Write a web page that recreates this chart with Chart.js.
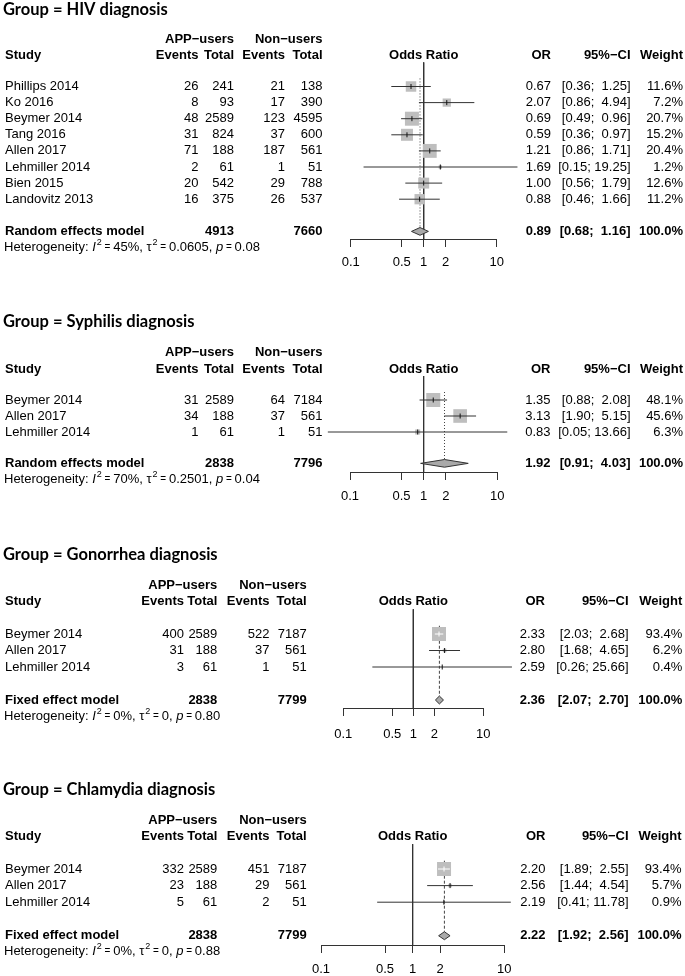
<!DOCTYPE html>
<html><head><meta charset="utf-8">
<script src="https://cdn.jsdelivr.net/npm/chart.js@4.4.1/dist/chart.umd.min.js"></script>
<style>
html,body{margin:0;padding:0;background:#fff;width:685px;height:976px;overflow:hidden;position:relative;}
canvas{position:absolute;left:0;}
</style></head><body>
<canvas id="c0"></canvas><canvas id="c1"></canvas><canvas id="c2"></canvas><canvas id="c3"></canvas>
<script>
// ---------------- DATA ----------------
const GROUPS = ['HIV diagnosis', 'Syphilis diagnosis', 'Gonorrhea diagnosis', 'Chlamydia diagnosis'];
const MODELS = ['Random effects model', 'Random effects model', 'Fixed effect model', 'Fixed effect model'];
const X_TICKS = [0.1, 0.5, 1, 2, 10];

const HIV_STUDIES = ['Phillips 2014', 'Ko 2016', 'Beymer 2014', 'Tang 2016', 'Allen 2017', 'Lehmiller 2014', 'Bien 2015', 'Landovitz 2013'];
const HIV_APP_EVENTS = [26, 8, 48, 31, 71, 2, 20, 16];
const HIV_APP_TOTAL = [241, 93, 2589, 824, 188, 61, 542, 375];
const HIV_NON_EVENTS = [21, 17, 123, 37, 187, 1, 29, 26];
const HIV_NON_TOTAL = [138, 390, 4595, 600, 561, 51, 788, 537];
const HIV_OR = [0.67, 2.07, 0.69, 0.59, 1.21, 1.69, 1.00, 0.88];
const HIV_LOWER = [0.36, 0.86, 0.49, 0.36, 0.86, 0.15, 0.56, 0.46];
const HIV_UPPER = [1.25, 4.94, 0.96, 0.97, 1.71, 19.25, 1.79, 1.66];
const HIV_WEIGHT = [11.6, 7.2, 20.7, 15.2, 20.4, 1.2, 12.6, 11.2];
const HIV_POOLED = [0.89, 0.68, 1.16];
const HIV_TOTALS = [4913, 7660];
const HIV_HET = ['45%', '0.0605', '0.08'];

const SY_STUDIES = ['Beymer 2014', 'Allen 2017', 'Lehmiller 2014'];
const SY_APP_EVENTS = [31, 34, 1];
const SY_APP_TOTAL = [2589, 188, 61];
const SY_NON_EVENTS = [64, 37, 1];
const SY_NON_TOTAL = [7184, 561, 51];
const SY_OR = [1.35, 3.13, 0.83];
const SY_LOWER = [0.88, 1.90, 0.05];
const SY_UPPER = [2.08, 5.15, 13.66];
const SY_WEIGHT = [48.1, 45.6, 6.3];
const SY_POOLED = [1.92, 0.91, 4.03];
const SY_TOTALS = [2838, 7796];
const SY_HET = ['70%', '0.2501', '0.04'];

const GO_STUDIES = ['Beymer 2014', 'Allen 2017', 'Lehmiller 2014'];
const GO_APP_EVENTS = [400, 31, 3];
const GO_APP_TOTAL = [2589, 188, 61];
const GO_NON_EVENTS = [522, 37, 1];
const GO_NON_TOTAL = [7187, 561, 51];
const GO_OR = [2.33, 2.80, 2.59];
const GO_LOWER = [2.03, 1.68, 0.26];
const GO_UPPER = [2.68, 4.65, 25.66];
const GO_WEIGHT = [93.4, 6.2, 0.4];
const GO_POOLED = [2.36, 2.07, 2.70];
const GO_TOTALS = [2838, 7799];
const GO_HET = ['0%', '0', '0.80'];

const CH_STUDIES = ['Beymer 2014', 'Allen 2017', 'Lehmiller 2014'];
const CH_APP_EVENTS = [332, 23, 5];
const CH_APP_TOTAL = [2589, 188, 61];
const CH_NON_EVENTS = [451, 29, 2];
const CH_NON_TOTAL = [7187, 561, 51];
const CH_OR = [2.20, 2.56, 2.19];
const CH_LOWER = [1.89, 1.44, 0.41];
const CH_UPPER = [2.55, 4.54, 11.78];
const CH_WEIGHT = [93.4, 5.7, 0.9];
const CH_POOLED = [2.22, 1.92, 2.56];
const CH_TOTALS = [2838, 7799];
const CH_HET = ['0%', '0', '0.88'];

const PANELS = [
  {studies: HIV_STUDIES, ae: HIV_APP_EVENTS, at: HIV_APP_TOTAL, ne: HIV_NON_EVENTS, nt: HIV_NON_TOTAL, or: HIV_OR, lo: HIV_LOWER, hi: HIV_UPPER, w: HIV_WEIGHT, pooled: HIV_POOLED, totals: HIV_TOTALS, het: HIV_HET},
  {studies: SY_STUDIES, ae: SY_APP_EVENTS, at: SY_APP_TOTAL, ne: SY_NON_EVENTS, nt: SY_NON_TOTAL, or: SY_OR, lo: SY_LOWER, hi: SY_UPPER, w: SY_WEIGHT, pooled: SY_POOLED, totals: SY_TOTALS, het: SY_HET},
  {studies: GO_STUDIES, ae: GO_APP_EVENTS, at: GO_APP_TOTAL, ne: GO_NON_EVENTS, nt: GO_NON_TOTAL, or: GO_OR, lo: GO_LOWER, hi: GO_UPPER, w: GO_WEIGHT, pooled: GO_POOLED, totals: GO_TOTALS, het: GO_HET},
  {studies: CH_STUDIES, ae: CH_APP_EVENTS, at: CH_APP_TOTAL, ne: CH_NON_EVENTS, nt: CH_NON_TOTAL, or: CH_OR, lo: CH_LOWER, hi: CH_UPPER, w: CH_WEIGHT, pooled: CH_POOLED, totals: CH_TOTALS, het: CH_HET}
];

// ---------------- LAYOUT (positions / styles) ----------------
const LAYOUT = [
  {top: 0,   r0: 86.5, s: 16.1, axisRow: 9.5,  x01: 350.7, x10: 496.7, cols: [198.5, 234, 285, 322.5], orR: 551, ciR: 630.5, wR: 683, titleRow: -4.75, appRow: -2.9, studyRow: -1.95, pooledRow: 9, hetRow: 10, tickPad: 8, dash: [1, 2]},
  {top: 300, r0: 400,  s: 16.0, axisRow: 4.52, x01: 350,   x10: 497.3, cols: [198.5, 234, 285, 322.5], orR: 550.5, ciR: 630.5, wR: 683, titleRow: -4.9, appRow: -2.96, studyRow: -1.92, pooledRow: 3.96, hetRow: 4.94, tickPad: 8.5, dash: [1, 2]},
  {top: 535, r0: 634,  s: 16.5, axisRow: 4.5,  x01: 343.3, x10: 483.3, cols: [184, 217.3, 269.5, 306.7], orR: 545, ciR: 628.5, wR: 682.3, titleRow: -4.79, appRow: -2.97, studyRow: -2.0, pooledRow: 4, hetRow: 5, tickPad: 11, dash: [3, 2]},
  {top: 770, r0: 869,  s: 16.6, axisRow: 4.58, x01: 321,   x10: 504.3, cols: [184, 217.3, 269.5, 306.7], orR: 545.5, ciR: 628.5, wR: 681.5, titleRow: -4.76, appRow: -2.95, studyRow: -1.95, pooledRow: 4.02, hetRow: 4.98, tickPad: 9, dash: [3, 2]}
];
const AX_H = 36;
const FONT = '"Liberation Sans", Arial, sans-serif';
const TITLE_FONT = 'bold 16.5px Lato, "Liberation Sans", sans-serif';
const MAX_SQ = 14;
const DH = 0.24;
const LINE_COL = '#333';
const SQ_COL = '#bebebe';
const DIA_COL = '#a9a9a9';

function sqSide(p, k) {
  const wmax = Math.max(...p.w);
  return MAX_SQ * Math.sqrt(p.w[k] / wmax);
}
function inside(chart, p, k) {
  const xs = chart.scales.x;
  const c = xs.getPixelForValue(p.or[k]);
  const h = sqSide(p, k) / 2;
  return xs.getPixelForValue(p.lo[k]) >= c - h && xs.getPixelForValue(p.hi[k]) <= c + h;
}
function ciStrings(p) {
  const los = p.lo.concat([p.pooled[1]]).map(v => v.toFixed(2));
  const his = p.hi.concat([p.pooled[2]]).map(v => v.toFixed(2));
  const ml = Math.max(...los.map(s => s.length));
  const mh = Math.max(...his.map(s => s.length));
  return los.map((l, i) => '[' + l.padStart(ml, ' ') + '; ' + his[i].padStart(mh, ' ') + ']');
}

function forestPlugin(i) {
  return {
    id: 'forest' + i,
    afterLayout(chart) {
      // anchor the panel so that the axis line sits where the reference has it
      const L = LAYOUT[i];
      const ca = chart.chartArea;
      const pageAxis = L.r0 + L.axisRow * L.s;
      const canvasTop = Math.round(pageAxis - ca.bottom);
      chart.canvas.style.top = canvasTop + 'px';
      const ys = chart.scales.y;
      ys.min = (ca.top + canvasTop - L.r0) / L.s;
      ys.max = (ca.bottom + canvasTop - L.r0) / L.s;
      ys.configure();
    },
    afterDraw(chart) {
      const p = PANELS[i], L = LAYOUT[i];
      const ctx = chart.ctx, ys = chart.scales.y, xs = chart.scales.x;
      const Y = r => ys.getPixelForValue(r);
      ctx.save();
      ctx.fillStyle = '#000';
      ctx.textBaseline = 'middle';
      const t = (s, x, r, align, bold) => {
        ctx.font = (bold ? 'bold ' : '') + '13px ' + FONT;
        ctx.textAlign = align;
        ctx.fillText(s, x, Y(r));
      };
      // title
      ctx.font = TITLE_FONT; ctx.textAlign = 'left';
      ctx.fillText('Group = ' + GROUPS[i], 3, Y(L.titleRow));
      // headers
      t('APP\u2212users', L.cols[1], L.appRow, 'right', true);
      t('Non\u2212users', L.cols[3], L.appRow, 'right', true);
      t('Study', 5, L.studyRow, 'left', true);
      t('Events', L.cols[0], L.studyRow, 'right', true);
      t('Total', L.cols[1], L.studyRow, 'right', true);
      t('Events', L.cols[2], L.studyRow, 'right', true);
      t('Total', L.cols[3], L.studyRow, 'right', true);
      t('Odds Ratio', xs.getPixelForValue(1), L.studyRow, 'center', true);
      t('OR', L.orR, L.studyRow, 'right', true);
      t('95%\u2212CI', L.ciR, L.studyRow, 'right', true);
      t('Weight', L.wR, L.studyRow, 'right', true);
      const cis = ciStrings(p);
      p.studies.forEach((name, k) => {
        t(name, 5, k, 'left', false);
        t(String(p.ae[k]), L.cols[0], k, 'right', false);
        t(String(p.at[k]), L.cols[1], k, 'right', false);
        t(String(p.ne[k]), L.cols[2], k, 'right', false);
        t(String(p.nt[k]), L.cols[3], k, 'right', false);
        t(p.or[k].toFixed(2), L.orR, k, 'right', false);
        t(cis[k], L.ciR, k, 'right', false);
        t(p.w[k].toFixed(1) + '%', L.wR, k, 'right', false);
      });
      // model row
      const pr = L.pooledRow;
      t(MODELS[i], 5, pr, 'left', true);
      t(String(p.totals[0]), L.cols[1], pr, 'right', true);
      t(String(p.totals[1]), L.cols[3], pr, 'right', true);
      t(p.pooled[0].toFixed(2), L.orR, pr, 'right', true);
      t(cis[cis.length - 1], L.ciR, pr, 'right', true);
      t('100.0%', L.wR, pr, 'right', true);
      // heterogeneity
      const parts = [['Heterogeneity: ', 'n'], ['I', 'i'], ['2', 's'], [' = ', 'e'], [p.het[0] + ', ', 'n'], ['\u03c4', 'n'], ['2', 's'], [' = ', 'e'], [p.het[1] + ', ', 'n'], ['p', 'i'], [' = ', 'e'], [p.het[2], 'n']];
      let x = 4; const hy = Y(L.hetRow);
      ctx.textAlign = 'left';
      for (const [s, st] of parts) {
        ctx.font = st === 'i' ? 'italic 13px ' + FONT : (st === 's' ? '9px ' + FONT : (st === 'e' ? '10px ' + FONT : '13px ' + FONT));
        ctx.fillText(s, x + (st === 's' ? 1 : 0), hy + (st === 's' ? -5 : 0));
        x += ctx.measureText(s).width + (st === 's' ? 1 : 0);
      }
      ctx.restore();
    }
  };
}

function makeChart(i) {
  const p = PANELS[i], L = LAYOUT[i];
  const chartBottom = L.r0 + L.axisRow * L.s - L.top;
  const H = Math.ceil(chartBottom) + AX_H + 10;
  const cv = document.getElementById('c' + i);
  cv.width = 685; cv.height = H; cv.style.top = L.top + 'px';
  cv.style.width = '685px'; cv.style.height = H + 'px';

  const ciData = [];
  p.studies.forEach((_, k) => {
    ciData.push({x: p.lo[k], y: k}, {x: p.hi[k], y: k}, {x: null, y: null});
  });
  const pooledRow = L.pooledRow;
  const datasets = [
    { // pooled estimate reference line
      data: [{x: p.pooled[0], y: -0.5}, {x: p.pooled[0], y: pooledRow - DH}],
      showLine: true, borderColor: '#444', borderWidth: 1, borderDash: L.dash, pointRadius: 0, order: 6, clip: false
    },
    { // null effect line at OR = 1
      data: [{x: 1, y: -1.5}, {x: 1, y: L.axisRow}],
      showLine: true, borderColor: LINE_COL, borderWidth: 1, pointRadius: 0, order: 5, clip: false
    },
    { // squares
      data: p.or.map((v, k) => ({x: v, y: k})),
      pointStyle: 'rect', pointRadius: c => sqSide(p, c.dataIndex) / Math.SQRT2,
      backgroundColor: SQ_COL, borderWidth: 0, borderColor: SQ_COL, order: 4, clip: false
    },
    { // confidence intervals
      data: ciData, showLine: true, spanGaps: false, pointRadius: 0, borderWidth: 1,
      borderColor: LINE_COL,
      segment: { borderColor: c => inside(c.chart, p, Math.floor(c.p0DataIndex / 3)) ? '#fff' : LINE_COL },
      order: 3, clip: false
    },
    { // estimate tick marks
      data: p.or.map((v, k) => ({x: v, y: k})),
      pointStyle: 'line', rotation: 90, pointRadius: 2.5, borderWidth: 1,
      borderColor: c => inside(c.chart, p, c.dataIndex) ? '#fff' : '#111',
      order: 2, clip: false
    },
    { // diamond
      data: [{x: p.pooled[1], y: pooledRow}, {x: p.pooled[0], y: pooledRow - DH}, {x: p.pooled[2], y: pooledRow}, {x: p.pooled[0], y: pooledRow + DH}, {x: p.pooled[1], y: pooledRow}],
      showLine: true, fill: 'shape', backgroundColor: DIA_COL, borderColor: LINE_COL, borderWidth: 1, pointRadius: 0, order: 1, clip: false
    }
  ];

  new Chart(cv, {
    type: 'scatter',
    data: { datasets },
    options: {
      responsive: false, animation: false, devicePixelRatio: 1,
      layout: { autoPadding: false, padding: { left: L.x01, right: 685 - L.x10, top: 0, bottom: 10 } },
      plugins: { legend: { display: false }, tooltip: { enabled: false }, title: { display: false } },
      scales: {
        x: {
          type: 'logarithmic', min: 0.1, max: 10, position: 'bottom',
          afterBuildTicks: s => { s.ticks = X_TICKS.map(v => ({ value: v })); },
          afterFit: s => { s.height = AX_H; },
          ticks: { autoSkip: false, maxRotation: 0, color: '#000', padding: L.tickPad,
                   font: { family: 'Liberation Sans', size: 13 }, callback: v => String(v) },
          grid: { display: true, drawOnChartArea: false, drawTicks: true, tickLength: 8, color: LINE_COL, lineWidth: 1 },
          border: { display: true, color: LINE_COL, width: 1 }
        },
        y: { type: 'linear', display: false, min: -6, max: L.axisRow, reverse: true }
      }
    },
    plugins: [forestPlugin(i)]
  });
}
[0, 1, 2, 3].forEach(makeChart);
</script>
</body></html>
